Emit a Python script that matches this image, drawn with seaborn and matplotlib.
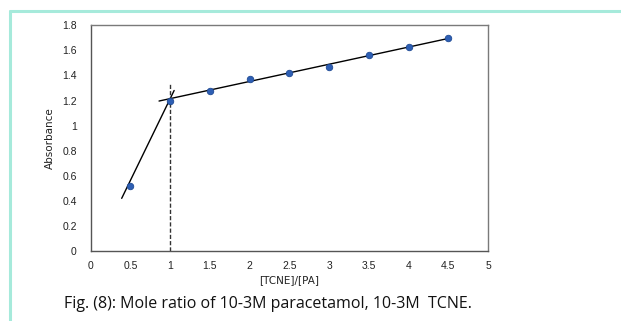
import matplotlib
matplotlib.use("Agg")
import matplotlib.pyplot as plt
from matplotlib.lines import Line2D
import seaborn as sns
import pandas as pd

# Mole ratio data
ratio = [0.5, 1.0, 1.5, 2.0, 2.5, 3.0, 3.5, 4.0, 4.5]
absorbance = [0.52, 1.20, 1.28, 1.37, 1.42, 1.47, 1.56, 1.63, 1.70]

# hand-drawn fit lines (endpoints)
steep_x = [0.39, 1.05]
steep_y = [0.42, 1.28]
flat_x = [0.86, 4.5]
flat_y = [1.196, 1.695]
break_x = 1.0
break_top = 1.33

x_ticks = [0, 0.5, 1, 1.5, 2, 2.5, 3, 3.5, 4, 4.5, 5]
y_ticks = [0, 0.2, 0.4, 0.6, 0.8, 1, 1.2, 1.4, 1.6, 1.8]

df = pd.DataFrame({"ratio": ratio, "absorbance": absorbance})

sns.set_style("white")
W, H = 621, 321
fig = plt.figure(figsize=(W / 100, H / 100), dpi=100)
ax = fig.add_axes([90.7 / W, 1 - 251 / H, 397.3 / W, 225.7 / H])

sns.scatterplot(data=df, x="ratio", y="absorbance", ax=ax, marker="o",
                s=22, color="#2e5fb4", edgecolor="#1f4a94", linewidth=0.6, zorder=3)
ax.plot(steep_x, steep_y, color="black", lw=1.0, zorder=2)
ax.plot(flat_x, flat_y, color="black", lw=1.0, zorder=2)
ax.plot([break_x, break_x], [0, break_top], color="#333333", lw=1.0,
        ls=(0, (3, 1.5)), zorder=2)

ax.set_xlim(0, 5)
ax.set_ylim(0, 1.8)
ax.set_xticks(x_ticks)
ax.set_xticklabels([f"{t:g}" for t in x_ticks])
ax.set_yticks(y_ticks)
ax.set_yticklabels([f"{t:g}" for t in y_ticks])
ax.tick_params(axis="both", length=0, labelsize=7.5, colors="#222222")
ax.tick_params(axis="x", pad=7)
ax.tick_params(axis="y", pad=10)
for lab in ax.get_xticklabels() + ax.get_yticklabels():
    lab.set_family("Liberation Sans")

ax.set_xlabel("[TCNE]/[PA]", fontsize=7.5, labelpad=3, color="#222222")
ax.set_ylabel("Absorbance", fontsize=7.5, labelpad=5, color="#222222")
for sp in ax.spines.values():
    sp.set_color("#7a7a7a")
    sp.set_linewidth(1.0)
ax.spines["left"].set_color("#555555")
ax.spines["bottom"].set_color("#555555")

# caption
fig.text(268 / W, 1 - 304 / H, "Fig. (8): Mole ratio of 10-3M paracetamol, 10-3M  TCNE.",
         ha="center", va="center", fontsize=11.5, family="Open Sans", color="#111111")

# teal page border
fig.add_artist(Line2D([9.5 / W, 1], [1 - 10.5 / H, 1 - 10.5 / H], color="#a6eadb", lw=2.2))
fig.add_artist(Line2D([9.5 / W, 9.5 / W], [0, 1 - 10.5 / H], color="#a6eadb", lw=2.2))

fig.savefig("out.png", dpi=100)
